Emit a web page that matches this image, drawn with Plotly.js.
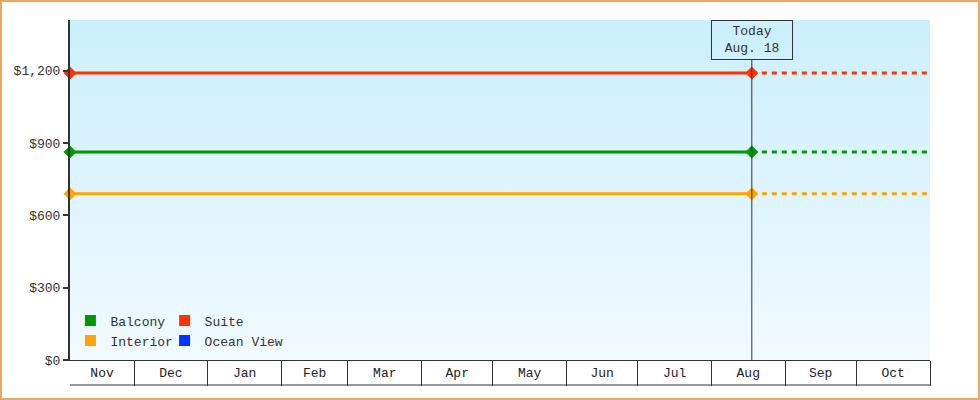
<!DOCTYPE html>
<html>
<head>
<meta charset="utf-8">
<script src="https://cdn.plot.ly/plotly-3.0.1.min.js"></script>
<style>
  html, body { margin: 0; padding: 0; background: #ffffff; }
  #wrap { position: relative; width: 980px; height: 400px; overflow: hidden; background: #ffffff; }
  #bg { position: absolute; left: 70px; top: 20px; width: 860px; height: 340px;
        background: linear-gradient(to bottom, #cbeffc 0%, #f1faff 100%); }
  #chart { position: absolute; left: 0; top: 0; width: 980px; height: 400px; }
  #frame { position: absolute; left: 0; top: 0; width: 980px; height: 400px; box-sizing: border-box;
           border: 2px solid #e9a862; pointer-events: none; }
</style>
</head>
<body>
<div id="wrap">
  <div id="bg"></div>
  <div id="chart"></div>
  <div id="frame"></div>
</div>
<script>
// ---- data ----
const rangeStart = '2024-11-04';
const rangeEnd = '2025-11-01';
const today = '2025-08-18';
const todayLabel = 'Today<br>Aug. 18';
const months = ['Nov','Dec','Jan','Feb','Mar','Apr','May','Jun','Jul','Aug','Sep','Oct'];
const monthStarts = ['2024-11-01','2024-12-01','2025-01-01','2025-02-01','2025-03-01','2025-04-01',
  '2025-05-01','2025-06-01','2025-07-01','2025-08-01','2025-09-01','2025-10-01','2025-11-01'];
const histDates = ['2024-11-04', '2025-08-18'];
const projDates = ['2025-08-18', '2025-11-01'];
const balcony   = [863, 863];
const suite     = [1190, 1190];
const interior  = [689, 689];
const oceanView = [null, null];
const yTicks = [0, 300, 600, 900, 1200];
const yTickText = ['$0', '$300', '$600', '$900', '$1,200'];

// ---- helpers ----
const ms = d => new Date(d + 'T00:00:00Z').getTime();
const iso = t => new Date(t).toISOString().slice(0, 19).replace('T', ' ');
const rs = ms(rangeStart), re = ms(rangeEnd);
const labelVals = months.map((m, i) => {
  const a = Math.max(ms(monthStarts[i]), rs);
  const b = Math.min(ms(monthStarts[i + 1]), re);
  return iso((a + b) / 2);
});
const boundaryVals = monthStarts.slice(1);

const FONT = '"Liberation Mono", "DejaVu Sans Mono", monospace';
const series = [
  {name: 'Balcony', y: balcony, color: '#009a00', legend: 'legend'},
  {name: 'Interior', y: interior, color: '#ffa500', legend: 'legend'},
  {name: 'Suite', y: suite, color: '#ff3300', legend: 'legend2'},
  {name: 'Ocean View', y: oceanView, color: '#0033ff', legend: 'legend2'}
];

const traces = [];
series.forEach(s => {
  traces.push({
    x: histDates, y: s.y, type: 'scatter', mode: 'lines+markers', name: s.name,
    line: {color: s.color, width: 3}, marker: {symbol: 'diamond', size: 10, color: s.color},
    showlegend: false, hoverinfo: 'skip', cliponaxis: false
  });
  traces.push({
    x: projDates, y: s.y, type: 'scatter', mode: 'lines', name: s.name,
    line: {color: s.color, width: 3, dash: '5px,5px'},
    showlegend: false, hoverinfo: 'skip'
  });
});
series.forEach(s => {
  traces.push({
    x: [null], y: [null], type: 'scatter', mode: 'markers', name: s.name,
    marker: {symbol: 'square', size: 11, color: s.color}, legend: s.legend, showlegend: true
  });
});

const layout = {
  width: 980, height: 400,
  margin: {l: 70, r: 50, t: 20, b: 40},
  paper_bgcolor: 'rgba(0,0,0,0)', plot_bgcolor: 'rgba(0,0,0,0)',
  font: {family: FONT, size: 13, color: '#333333'},
  showlegend: true,
  xaxis: {
    type: 'date', range: [rangeStart, rangeEnd], fixedrange: true,
    showgrid: false, zeroline: false,
    showline: true, linecolor: '#333333', linewidth: 1,
    tickmode: 'array', tickvals: labelVals, ticktext: months, ticks: '',
    tickfont: {family: FONT, size: 13, color: '#222222'},
    minor: {tickmode: 'array', tickvals: boundaryVals, ticks: 'outside', ticklen: 25,
            tickwidth: 1, tickcolor: '#333333', showgrid: false}
  },
  yaxis: {
    range: [0, 1410], fixedrange: true, showgrid: false, zeroline: false,
    showline: true, linecolor: '#333333', linewidth: 2,
    tickmode: 'array', tickvals: yTicks, ticktext: yTickText,
    ticks: 'outside', ticklen: 5, tickwidth: 2, tickcolor: '#333333',
    tickfont: {family: FONT, size: 13, color: '#333333'}
  },
  legend: {x: 0.0005, y: 0.013, xanchor: 'left', yanchor: 'bottom', orientation: 'v',
           bgcolor: 'rgba(0,0,0,0)', font: {family: FONT, size: 13, color: '#333333'}, tracegroupgap: 0},
  legend2: {x: 0.110, y: 0.013, xanchor: 'left', yanchor: 'bottom', orientation: 'v',
            bgcolor: 'rgba(0,0,0,0)', font: {family: FONT, size: 13, color: '#333333'}, tracegroupgap: 0},
  shapes: [
    {type: 'line', xref: 'paper', yref: 'paper', x0: 0, x1: 1, y0: -25 / 340, y1: -25 / 340,
     line: {color: '#333333', width: 1}}
  ],
  annotations: [
    {x: today, y: 0, xref: 'x', yref: 'y', text: todayLabel, showarrow: true,
     arrowhead: 0, arrowwidth: 1, arrowcolor: '#333333', ax: 0, ay: -320, standoff: 0,
     bordercolor: '#333333', borderwidth: 1, borderpad: 0, width: 80, height: 38,
     bgcolor: 'rgba(0,0,0,0)', font: {family: FONT, size: 13, color: '#333333'}}
  ]
};

Plotly.newPlot('chart', traces, layout, {displayModeBar: false, staticPlot: true});
</script>
</body>
</html>
